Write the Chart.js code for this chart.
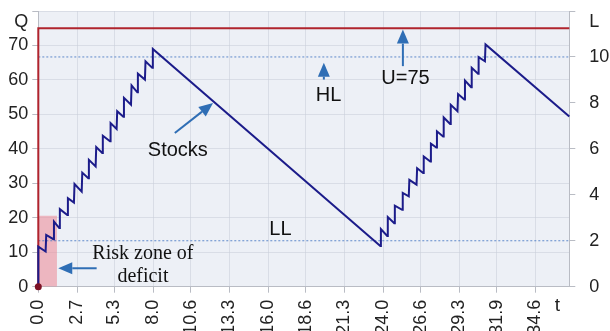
<!DOCTYPE html>
<html>
<head>
<meta charset="utf-8">
<script src="https://cdn.jsdelivr.net/npm/chart.js@4.4.1/dist/chart.umd.min.js"></script>
<style>
  html, body { margin: 0; padding: 0; background: #fff; overflow: hidden; }
  #wrap { width: 610px; height: 331px; }
</style>
</head>
<body>
<div id="wrap"><canvas id="chart" width="610" height="331"></canvas></div>
<script>
// stock level Q over time t: each delivery is a near-vertical jump, then consumption
var stockT = [0, 0,
  0.51, 0.55, 1.05, 1.09, 1.46, 1.50, 2.02, 2.06, 2.48, 2.52, 3.02, 3.06,
  3.48, 3.52, 3.99, 4.03, 4.45, 4.49, 4.99, 5.03, 5.45, 5.49, 5.92, 5.96,
  6.45, 6.49, 6.89, 6.93, 7.42, 7.46, 7.93, 7.97,
  23.80, 23.84, 24.28, 24.32, 24.77, 24.81, 25.32, 25.36, 25.78, 25.82,
  26.32, 26.36, 26.78, 26.82, 27.28, 27.32, 27.70, 27.74, 28.17, 28.21,
  28.66, 28.70, 29.17, 29.21, 29.65, 29.69, 30.12, 30.16, 30.60, 30.64,
  31.08, 31.12,
  36.95];
var stockQ = [0, 11.6,
  10.2, 15.0, 13.8, 18.9, 17.0, 22.5, 20.8, 25.7, 24.4, 29.8, 27.6, 33.1,
  31.5, 36.8, 34.9, 40.5, 38.8, 43.8, 42.2, 47.5, 45.8, 50.9, 49.3, 54.8,
  52.8, 58.4, 56.4, 61.8, 60.1, 65.4, 63.5, 69.0,
  11.8, 16.7, 14.7, 20.2, 18.4, 23.5, 22.3, 27.2, 26.2, 31.0,
  29.6, 34.4, 33.0, 37.8, 36.3, 41.5, 40.4, 45.1, 43.6, 49.1,
  47.2, 52.8, 50.9, 55.9, 54.3, 59.8, 57.9, 63.5, 61.8, 66.6,
  65.4, 70.3,
  49.4];

var tMax = 36.95;
var capacityU = 75;      // U=75
var levelHL = 10;        // on the L axis
var levelLL = 2;
var riskT = [0, 1.3];
var riskQ = 20.6;

var xTickLabels = ['0.0', '2.7', '5.3', '8.0', '10.6', '13.3', '16.0', '18.6',
  '21.3', '24.0', '26.6', '29.3', '31.9', '34.6'];
var qMax = 80, qStep = 10;
var lMax = 12, lStep = 2;

var stockPoints = stockT.map(function (t, i) { return { x: t, y: stockQ[i] }; });

var font = 'Liberation Sans, Arial, sans-serif';
var gridColor = 'rgba(200,205,216,0.55)';
var tickColor = '#b9bcc4';
var axisColor = '#b9bcc4';
var blue = '#2f6eb5';

// text and arrows, in data units (t, Q)
var notes = [
  { text: 'Stocks', t: 9.71, q: 39.5 },
  { text: 'HL', t: 20.2, q: 55.5 },
  { text: 'U=75', t: 25.55, q: 60.4 },
  { text: 'LL', t: 16.85, q: 16.5 },
  { text: 'Risk zone of', t: 7.28, q: 9.6, serif: true },
  { text: 'deficit', t: 7.28, q: 3.0, serif: true }
];
var arrows = [
  { from: [9.5, 44.6], to: [12.16, 53.3] },
  { from: [19.87, 60.1], to: [19.87, 65.0] },
  { from: [25.37, 64.0], to: [25.37, 74.6] },
  { from: [4.06, 5.35], to: [1.39, 5.35] }
];

var plotBg = {
  id: 'plotBg',
  beforeDraw: function (chart) {
    var a = chart.chartArea, ctx = chart.ctx;
    ctx.save();
    ctx.fillStyle = '#edf0f6';
    ctx.fillRect(a.left, a.top, a.right - a.left, a.bottom - a.top);
    ctx.restore();
  }
};

function drawArrow(ctx, x1, y1, x2, y2) {
  var a = Math.atan2(y2 - y1, x2 - x1);
  var head = 14, half = 6;
  var bx = x2 - head * Math.cos(a), by = y2 - head * Math.sin(a);
  ctx.beginPath();
  ctx.moveTo(x1, y1);
  ctx.lineTo(bx, by);
  ctx.stroke();
  ctx.beginPath();
  ctx.moveTo(x2, y2);
  ctx.lineTo(bx + half * Math.sin(a), by - half * Math.cos(a));
  ctx.lineTo(bx - half * Math.sin(a), by + half * Math.cos(a));
  ctx.closePath();
  ctx.fill();
}

var annotate = {
  id: 'annotate',
  afterDraw: function (chart) {
    var ctx = chart.ctx, xs = chart.scales.x, ys = chart.scales.y;
    ctx.save();
    ctx.strokeStyle = blue;
    ctx.fillStyle = blue;
    ctx.lineWidth = 2;
    arrows.forEach(function (r) {
      drawArrow(ctx, xs.getPixelForValue(r.from[0]), ys.getPixelForValue(r.from[1]),
        xs.getPixelForValue(r.to[0]), ys.getPixelForValue(r.to[1]));
    });
    ctx.fillStyle = '#111';
    ctx.textAlign = 'center';
    ctx.textBaseline = 'middle';
    notes.forEach(function (n) {
      ctx.font = n.serif ? '20px "Liberation Serif", "Times New Roman", serif' : '20px ' + font;
      ctx.fillText(n.text, xs.getPixelForValue(n.t), ys.getPixelForValue(n.q));
    });
    // axis name for time, beside the last tick label
    ctx.fillStyle = '#222';
    ctx.font = '19px ' + font;
    ctx.fillText('t', xs.right - 12, xs.top + 19);
    ctx.restore();
  }
};

// fixed axis sizes, no extra room for overhanging labels
function fitWidth(w) {
  return function (s) { s.width = w; s.paddingTop = 0; s.paddingBottom = 0; };
}

new Chart(document.getElementById('chart'), {
  type: 'line',
  data: {
    datasets: [
      {
        data: [{ x: 0, y: 0 }],
        pointRadius: 3.5, pointBackgroundColor: '#7d1226', pointBorderWidth: 0,
        showLine: false, clip: false
      },
      {
        data: stockPoints,
        borderColor: '#1c1c8a', borderWidth: 2, pointRadius: 0,
        tension: 0, clip: false
      },
      {
        data: [{ x: 0, y: 0 }, { x: 0, y: capacityU }, { x: tMax, y: capacityU }],
        borderColor: '#b0242e', borderWidth: 2, pointRadius: 0, clip: false
      },
      {
        data: [{ x: 0, y: levelHL }, { x: tMax, y: levelHL }],
        yAxisID: 'y1',
        borderColor: 'rgba(70,120,195,0.85)', borderWidth: 1, borderDash: [2, 2], pointRadius: 0
      },
      {
        data: [{ x: 0, y: levelLL }, { x: tMax, y: levelLL }],
        yAxisID: 'y1',
        borderColor: 'rgba(70,120,195,0.85)', borderWidth: 1, borderDash: [2, 2], pointRadius: 0
      },
      {
        data: [{ x: riskT[0], y: riskQ }, { x: riskT[1], y: riskQ }],
        borderWidth: 0, pointRadius: 0,
        fill: 'origin', backgroundColor: 'rgba(236,135,148,0.55)'
      }
    ]
  },
  options: {
    responsive: false,
    animation: false,
    layout: { padding: { top: 11, left: 0, right: 0, bottom: 0 } },
    plugins: { legend: { display: false }, tooltip: { enabled: false } },
    scales: {
      x: {
        type: 'linear', min: 0, max: tMax,
        afterBuildTicks: function (s) {
          s.ticks = xTickLabels.map(function (l) { return { value: Number(l) }; });
        },
        afterFit: function (s) { s.height = 44.3; s.paddingLeft = 0; s.paddingRight = 0; },
        ticks: {
          minRotation: 90, maxRotation: 90, autoSkip: false, padding: 7,
          color: '#222', font: { family: font, size: 18 },
          callback: function (v, i) { return xTickLabels[i]; }
        },
        grid: { color: gridColor, tickColor: tickColor, tickLength: 6 },
        border: { color: axisColor }
      },
      y: {
        position: 'left', min: 0, max: qMax,
        afterFit: fitWidth(38.3),
        ticks: {
          stepSize: qStep, autoSkip: false, padding: 4, color: '#222', font: { family: font, size: 18 },
          callback: function (v) { return v === qMax ? ['', 'Q'] : v; }
        },
        grid: { color: gridColor, tickColor: tickColor, tickLength: 6 },
        border: { color: axisColor }
      },
      y1: {
        position: 'right', min: 0, max: lMax,
        afterFit: fitWidth(40.7),
        ticks: {
          stepSize: lStep, autoSkip: false, padding: 14, color: '#222', font: { family: font, size: 18 },
          callback: function (v) { return v === lMax ? ['', 'L'] : v; }
        },
        grid: { drawOnChartArea: false, tickColor: tickColor, tickLength: 6 },
        border: { color: axisColor }
      }
    }
  },
  plugins: [plotBg, annotate]
});
</script>
</body>
</html>
